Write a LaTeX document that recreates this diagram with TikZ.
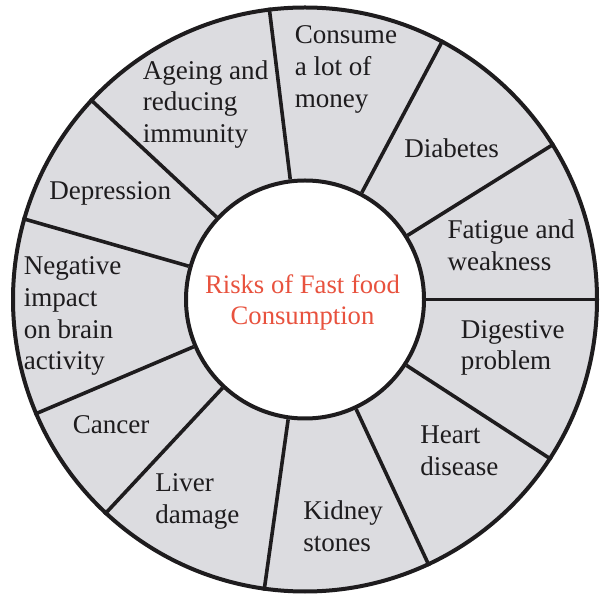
\documentclass[tikz,border=0pt]{standalone}
\usepackage{fontspec}
\setmainfont{Liberation Serif}
\definecolor{ringgray}{RGB}{220,220,224}
\definecolor{riskred}{RGB}{232,82,62}
\definecolor{inkblack}{RGB}{30,28,30}
\begin{document}
\begin{tikzpicture}[x=0.75pt,y=0.75pt,
  lbl/.style={anchor=base west, inner sep=0pt, align=left, font=\fontsize{20.3}{23.8}\selectfont, text=inkblack},
  ctr/.style={anchor=base, inner sep=0pt, align=center, font=\fontsize{20}{23.8}\selectfont, text=riskred},
  ringc/.style={circle, draw=inkblack, line width=3pt, inner sep=0pt},
  spoke/.style={draw=inkblack, line width=2.7pt}]
\useasboundingbox (0,0) rectangle (600,593);
\coordinate (c) at (305,293.5);
\node[ringc, fill=ringgray, minimum size=438pt] (outer) at (c) {};
\node[ringc, fill=white, minimum size=178.5pt] (inner) at (c) {};
\foreach \a in {97.4,62.5,32.2,0,-33.6,-65.1,-98.3,-133,-157.3,164.3,137.9}
  \draw[spoke] (inner.\a) -- (outer.\a);
% anchors are on the baseline of the last line of each text
\node[ctr] (risk) at (302.5,268) {Risks of Fast food\\Consumption};
\node[lbl] (money) at (294.5,485.7) {Consume\\a lot of\\money};
\node[lbl] (ageing) at (142.5,450.3) {Ageing and\\reducing\\immunity};
\node[lbl] (diab) at (404,435.5) {Diabetes};
\node[lbl] (fatigue) at (447.3,322.8) {Fatigue and\\weakness};
\node[lbl] (depr) at (49,393) {Depression};
\node[lbl] (brain) at (23.5,223) {Negative\\impact\\on brain\\activity};
\node[lbl] (digest) at (460.7,223) {Digestive\\problem};
\node[lbl] (heart) at (420,117.3) {Heart\\disease};
\node[lbl] (cancer) at (72.5,159.2) {Cancer};
\node[lbl] (liver) at (155,69.7) {Liver\\damage};
\node[lbl] (kidney) at (303,41.3) {Kidney\\stones};
\end{tikzpicture}
\end{document}
